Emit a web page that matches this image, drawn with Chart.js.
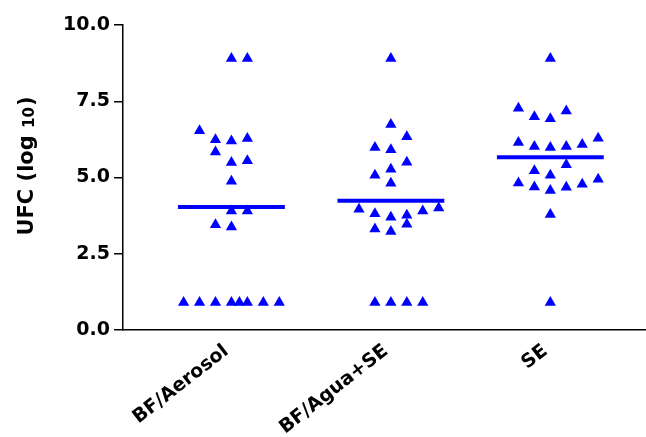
<!DOCTYPE html>
<html><head><meta charset="utf-8">
<script src="https://cdn.jsdelivr.net/npm/chart.js@4.4.1/dist/chart.umd.min.js"></script>
<style>html,body{margin:0;padding:0;background:#fff;}#wrap{width:646px;height:437px;}</style>
</head><body><div id="wrap"><canvas id="c" width="646" height="437"></canvas></div>
<script>
const categories = ['BF/Aerosol', 'BF/Agua+SE', 'SE'];
const yTicks = [0, 2.5, 5, 7.5, 10];
const yTitleMain = 'UFC (log ';
const yTitleSub = '10';
const yTitleEnd = ')';

const aerosolValues = [8.90, 8.90, 6.53, 6.24, 6.20, 6.28, 5.84, 5.49, 5.55, 4.88, 3.90, 3.90, 3.45, 3.38, 0.90, 0.90, 0.90, 0.90, 0.90, 0.90, 0.90, 0.90];
const aerosolJitter = [0, 1, -2, -1, 0, 1, -1, 0, 1, 0, 0, 1, -1, 0, -3, -2, -1, 0, 0.5, 1, 2, 3];

const aguaValues = [8.90, 6.74, 6.34, 5.98, 5.91, 5.50, 5.27, 5.07, 4.81, 3.96, 4.00, 3.90, 3.81, 3.76, 3.70, 3.47, 3.31, 3.23, 0.90, 0.90, 0.90, 0.90];
const aguaJitter = [0, 0, 1, -1, 0, 1, 0, -1, 0, -2, 3, 2, -1, 1, 0, 1, -1, 0, -1, 0, 1, 2];

const seValues = [8.90, 7.27, 7.18, 6.99, 6.93, 6.29, 6.15, 6.08, 6.02, 6.02, 5.98, 5.42, 5.22, 5.07, 4.94, 4.82, 4.78, 4.69, 4.68, 4.57, 3.79, 0.90];
const seJitter = [0, -2, 1, -1, 0, 3, -2, 2, -1, 1, 0, 1, -1, 0, 3, -2, 2, -1, 1, 0, 0, 0];

const groupMeans = [4.03, 4.24, 5.66];

const BLUE = '#0000ff';
const FONT = 'DejaVu Sans';
const JSTEP = 0.1, HALF = 0.335;

const groups = [[aerosolValues, aerosolJitter], [aguaValues, aguaJitter], [seValues, seJitter]];
const datasets = [];
groups.forEach(([vals, jit], g) => {
  datasets.push({
    label: categories[g],
    data: vals.map((v, i) => ({x: g + 1 + jit[i] * JSTEP, y: v})),
    pointStyle: 'triangle', pointRadius: 6.5, pointHoverRadius: 6.5,
    backgroundColor: BLUE, borderColor: BLUE, borderWidth: 0,
    showLine: false, order: 0
  });
});
groupMeans.forEach((m, g) => {
  datasets.push({
    label: 'mean ' + categories[g],
    data: [{x: g + 1 - HALF, y: m}, {x: g + 1 + HALF, y: m}],
    showLine: true, borderColor: BLUE, borderWidth: 4, pointRadius: 0,
    borderCapStyle: 'butt', order: 1
  });
});

const yTitlePlugin = {
  id: 'yTitle',
  afterDraw(chart) {
    const ctx = chart.ctx;
    const a = chart.chartArea;
    ctx.save();
    ctx.fillStyle = '#000';
    ctx.textBaseline = 'alphabetic';
    ctx.textAlign = 'left';
    const big = 'bold 21px "' + FONT + '"';
    const small = 'bold 15px "' + FONT + '"';
    ctx.font = big; const w1 = ctx.measureText(yTitleMain).width; const w3 = ctx.measureText(yTitleEnd).width;
    ctx.font = small; const w2 = ctx.measureText(yTitleSub).width;
    const total = w1 + w2 + w3;
    const cy = (a.top + a.bottom) / 2 - 11;
    ctx.translate(33, cy + total / 2);
    ctx.rotate(-Math.PI / 2);
    ctx.font = big; ctx.fillText(yTitleMain, 0, 0);
    ctx.font = small; ctx.fillText(yTitleSub, w1, 1);
    ctx.font = big; ctx.fillText(yTitleEnd, w1 + w2 + 1, 0);
    ctx.restore();
  }
};

new Chart(document.getElementById('c'), {
  type: 'scatter',
  data: {datasets},
  plugins: [yTitlePlugin],
  options: {
    responsive: false, animation: false, devicePixelRatio: 1,
    layout: {autoPadding: false, padding: {top: 25, right: 0, left: 0, bottom: 0}},
    plugins: {legend: {display: false}, tooltip: {enabled: false}},
    scales: {
      x: {
        type: 'linear', min: 0.32, max: 3.6,
        afterBuildTicks: s => { s.ticks = [1, 2, 3].map(v => ({value: v})); },
        afterFit: s => { s.height = 107; },
        grid: {display: false},
        border: {display: true, color: '#000', width: 1.5},
        ticks: {
          autoSkip: false, minRotation: 38, maxRotation: 38, padding: 2, labelOffset: -5,
          color: '#000', font: {family: FONT, size: 19, weight: 'bold'},
          callback: v => categories[Math.round(v) - 1]
        }
      },
      y: {
        type: 'linear', min: 0, max: 10,
        afterBuildTicks: s => { s.ticks = yTicks.map(v => ({value: v})); },
        afterFit: s => { s.width = 123; },
        grid: {display: true, drawOnChartArea: false, tickLength: 9, color: '#000', lineWidth: 1.5},
        border: {display: true, color: '#000', width: 1.5},
        ticks: {
          padding: 4, color: '#000', font: {family: FONT, size: 19, weight: 'bold'},
          callback: v => Number(v).toFixed(1)
        }
      }
    }
  }
});
</script></body></html>
